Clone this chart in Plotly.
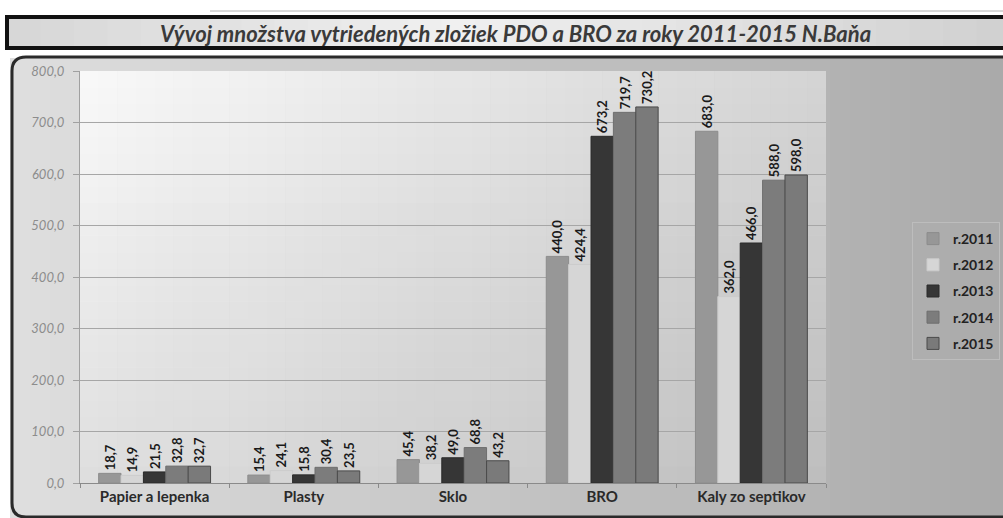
import plotly.graph_objects as go

categories = ["Papier a lepenka", "Plasty", "Sklo", "BRO", "Kaly zo septikov"]
years = ["r.2011", "r.2012", "r.2013", "r.2014", "r.2015"]
values = {
    "r.2011": [18.7, 15.4, 45.4, 440.0, 683.0],
    "r.2012": [14.9, 24.1, 38.2, 424.4, 362.0],
    "r.2013": [21.5, 15.8, 49.0, 673.2, 466.0],
    "r.2014": [32.8, 30.4, 68.8, 719.7, 588.0],
    "r.2015": [32.7, 23.5, 43.2, 730.2, 598.0],
}
colors = {
    "r.2011": "#979797",
    "r.2012": "#d6d6d6",
    "r.2013": "#363636",
    "r.2014": "#7c7c7c",
    "r.2015": "#7a7a7a",
}
line_colors = {
    "r.2011": "#8c8c8c",
    "r.2012": "#cccccc",
    "r.2013": "#2a2a2a",
    "r.2014": "#6e6e6e",
    "r.2015": "#4a4a4a",
}
title_text = "Vývoj množstva vytriedených zložiek PDO a BRO za roky 2011-2015 N.Baňa"

W, H = 1003, 518
L, R, T, B = 80, 826, 71, 483

def px(x):
    return (x - L) / (R - L)

def py(y):
    return (B - y) / (B - T)

def fmt(v):
    return f"{v:.1f}".replace(".", ",")

fig = go.Figure()
for yr in years:
    fig.add_trace(go.Bar(
        x=categories, y=values[yr], name=yr,
        marker=dict(color=colors[yr], line=dict(color=line_colors[yr], width=1)),
        text=[fmt(v) for v in values[yr]],
        textposition="outside", textangle=-90, constraintext="none",
        textfont=dict(family="Lato", size=13, color="#1a1a1a", weight="bold"),
        cliponaxis=False, legendgroup=yr, hoverinfo="skip",
    ))

def lerp(c1, c2, t):
    return "#%02x%02x%02x" % tuple(int(round(c1[i] + (c2[i] - c1[i]) * t)) for i in range(3))

shapes = []
# outer chart box gradient
n = 50
x0, x1 = 10, 1010
for i in range(n):
    a = x0 + (x1 - x0) * i / n
    b = x0 + (x1 - x0) * (i + 1) / n + 1
    c = lerp((222, 222, 222), (170, 170, 170), i / (n - 1))
    shapes.append(dict(type="rect", xref="paper", yref="paper", layer="below",
                       x0=px(a), x1=px(b), y0=py(519), y1=py(58),
                       fillcolor=c, line=dict(width=0)))
# plot area gradient
n = 40
for i in range(n):
    a = L + (R - L) * i / n
    b = L + (R - L) * (i + 1) / n + 0.5
    c = lerp((248, 248, 248), (212, 212, 212), i / (n - 1))
    shapes.append(dict(type="rect", xref="paper", yref="paper", layer="below",
                       x0=px(a), x1=px(min(b, R)), y0=0, y1=1,
                       fillcolor=c, line=dict(width=0)))
m = 25
for j in range(m):
    a = T + (B - T) * j / m
    b = T + (B - T) * (j + 1) / m
    shapes.append(dict(type="rect", xref="paper", yref="paper", layer="below",
                       x0=0, x1=1, y0=py(b), y1=py(a),
                       fillcolor="black", opacity=0.10 * j / (m - 1), line=dict(width=0)))
# chart box border (rounded left corners)
r = 14
path = (f"M {px(1015)},{py(57)} L {px(12 + r)},{py(57)} "
        f"Q {px(12)},{py(57)} {px(12)},{py(57 + r)} "
        f"L {px(12)},{py(517 - r)} Q {px(12)},{py(517)} {px(12 + r)},{py(517)} "
        f"L {px(1015)},{py(517)}")
shapes.append(dict(type="path", xref="paper", yref="paper", layer="above",
                   path=path, line=dict(color="#2a2a2a", width=3)))
# title box
n = 30
for i in range(n):
    a = 7 + (1010 - 7) * i / n
    b = 7 + (1010 - 7) * (i + 1) / n + 1
    t = i / (n - 1)
    k = 1 - abs(t - 0.45) * 1.6
    c = lerp((205, 205, 205), (240, 240, 240), max(0, k))
    shapes.append(dict(type="rect", xref="paper", yref="paper", layer="below",
                       x0=px(a), x1=px(b), y0=py(47), y1=py(18),
                       fillcolor=c, line=dict(width=0)))
shapes.append(dict(type="rect", xref="paper", yref="paper", layer="above",
                   x0=px(7), x1=px(1015), y0=py(48), y1=py(17),
                   fillcolor="rgba(0,0,0,0)", line=dict(color="#111111", width=4)))
shapes.append(dict(type="line", xref="paper", yref="paper", layer="above",
                   x0=px(210), x1=px(1003), y0=py(11), y1=py(11),
                   line=dict(color="#b0b0b0", width=1)))

fig.update_layout(
    width=W, height=H,
    margin=dict(l=L, r=W - R, t=T, b=H - B, autoexpand=False),
    paper_bgcolor="white",
    plot_bgcolor="rgba(0,0,0,0)",
    separators=",.",
    barmode="group", bargap=0.25, bargroupgap=0.0,
    shapes=shapes,
    annotations=[dict(text=title_text, xref="paper", yref="paper",
                      x=px(515), y=py(33), showarrow=False,
                      xanchor="center", yanchor="middle",
                      font=dict(family="Lato", size=22, color="#3a3a3a",
                                weight="bold", style="italic"))],
    legend=dict(xref="container", yref="container",
                x=912 / W, y=1 - 222 / H, xanchor="left", yanchor="top",
                bgcolor="rgba(0,0,0,0)", bordercolor="#bdbdbd", borderwidth=1,
                font=dict(family="Lato", size=14, color="#222222", weight="bold"),
                tracegroupgap=5, itemwidth=30),
    xaxis=dict(showgrid=False, showline=True, linecolor="#8a8a8a", linewidth=1,
               ticks="outside", tickson="boundaries", ticklen=4, tickcolor="#8a8a8a",
               tickfont=dict(family="Lato", size=15, color="#2a2a2a", weight="bold")),
    yaxis=dict(range=[0, 800], dtick=100, tickformat=".1f",
               showgrid=True, gridcolor="#a6a6a6", gridwidth=1,
               showline=True, linecolor="#a0a0a0", linewidth=1,
               ticks="outside", ticklen=6, tickcolor="#a0a0a0",
               ticklabelstandoff=6, zeroline=False,
               tickfont=dict(family="Lato", size=13, color="#8c8c8c", style="italic")),
    showlegend=True,
)

fig.write_html("out.html", config={"displayModeBar": False},
               post_script="document.body.style.margin='0px';document.body.style.overflow='hidden';")
